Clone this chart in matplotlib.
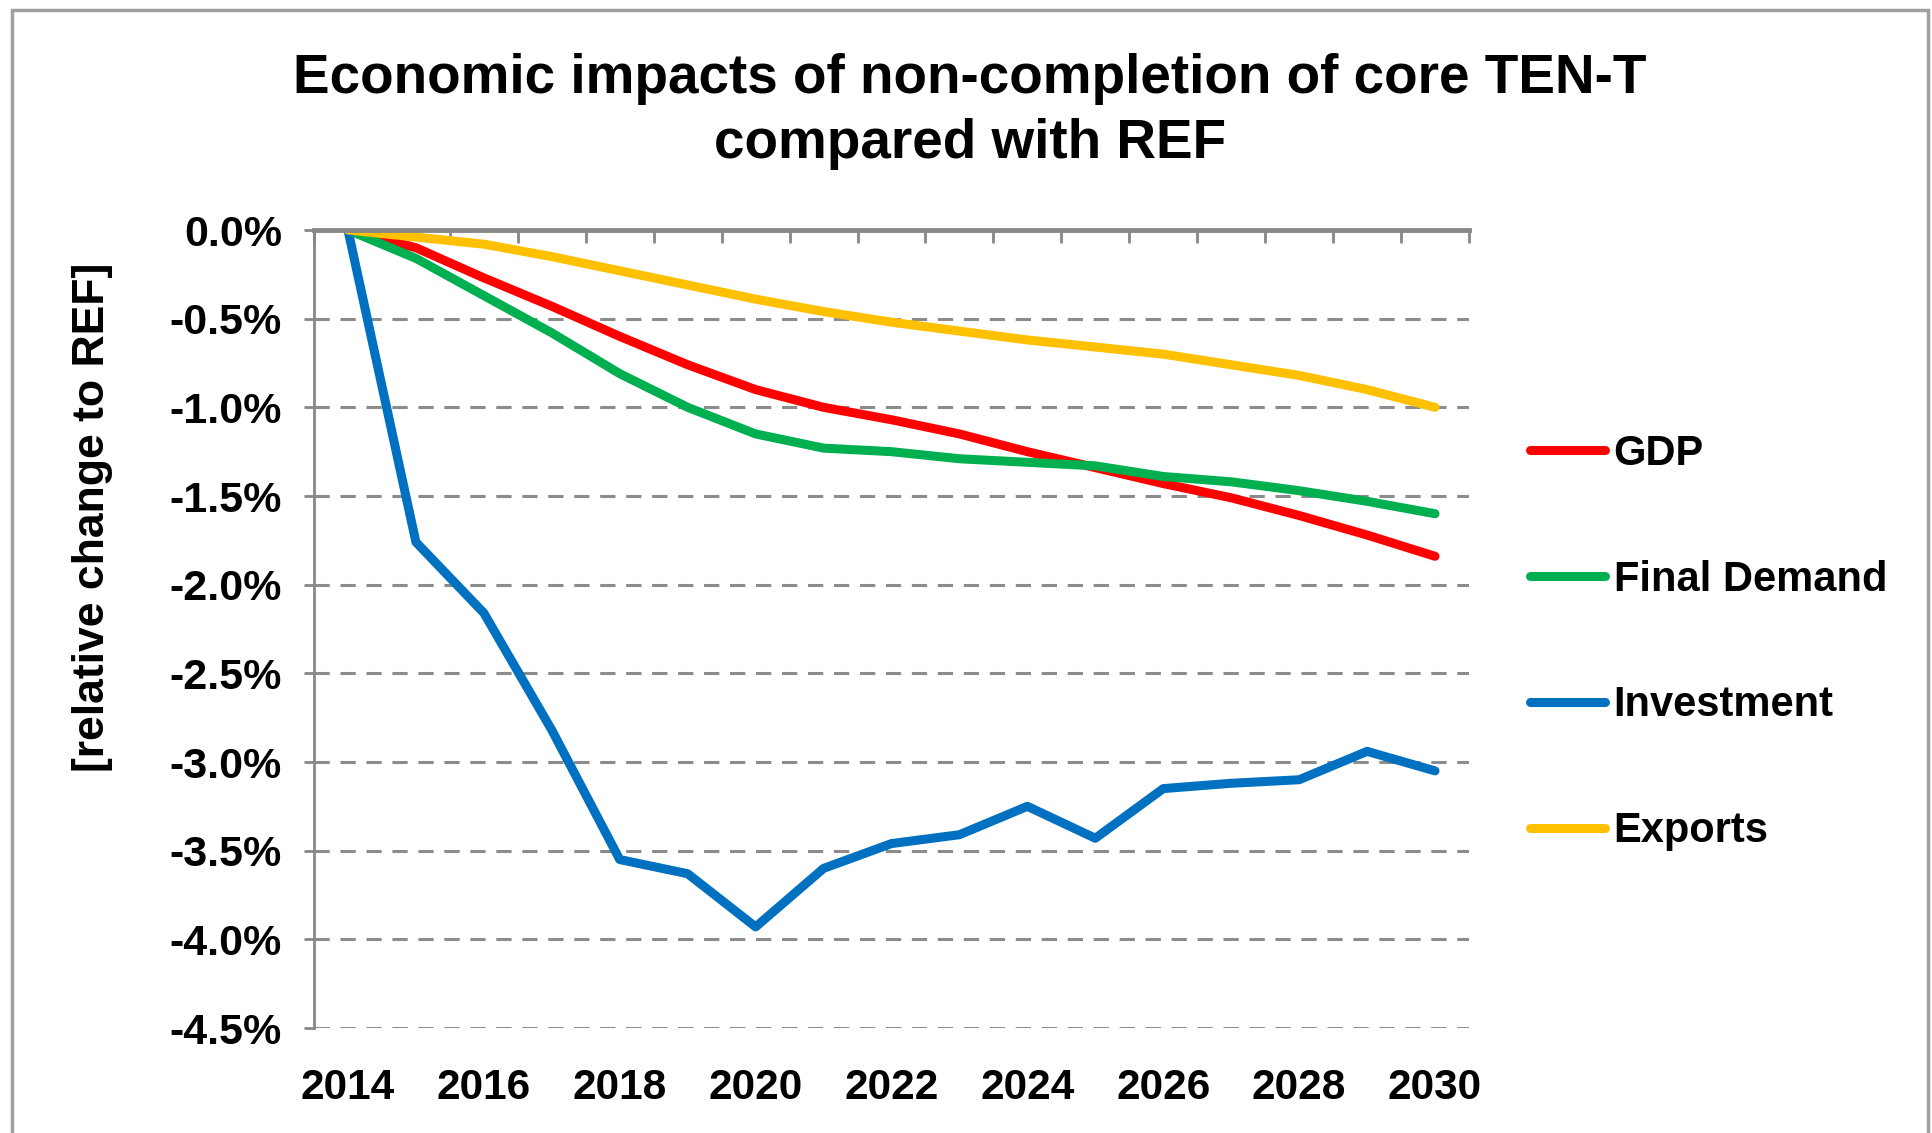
import matplotlib
matplotlib.use("Agg")
import matplotlib.pyplot as plt
from matplotlib.patches import Rectangle
from matplotlib.ticker import FixedLocator, FuncFormatter

plt.rcParams["font.family"] = ["Liberation Sans", "DejaVu Sans"]
plt.rcParams["font.weight"] = "bold"

# ---- data (relative change to REF, %) ------------------------------------
years = list(range(2014, 2031))
gdp = [0, -0.10, -0.27, -0.43, -0.60, -0.76, -0.90, -1.00, -1.07, -1.15,
       -1.25, -1.34, -1.43, -1.51, -1.61, -1.72, -1.84]
final_demand = [0, -0.16, -0.37, -0.58, -0.81, -1.00, -1.15, -1.23, -1.25,
                -1.29, -1.31, -1.33, -1.39, -1.42, -1.47, -1.53, -1.60]
investment = [0, -1.76, -2.16, -2.82, -3.55, -3.63, -3.93, -3.60, -3.46,
              -3.41, -3.25, -3.43, -3.15, -3.12, -3.10, -2.94, -3.05]
exports = [0, -0.04, -0.08, -0.15, -0.23, -0.31, -0.39, -0.46, -0.52, -0.57,
           -0.62, -0.66, -0.70, -0.76, -0.82, -0.90, -1.00]

series = [("GDP", gdp, "#FF0000"),
          ("Final Demand", final_demand, "#00B050"),
          ("Investment", investment, "#0070C0"),
          ("Exports", exports, "#FFC000")]
yticks = [0.0, -0.5, -1.0, -1.5, -2.0, -2.5, -3.0, -3.5, -4.0, -4.5]
xlabels = [2014, 2016, 2018, 2020, 2022, 2024, 2026, 2028, 2030]

W, H = 1932, 1133
fig = plt.figure(figsize=(W / 100, H / 100), dpi=100)
ax = fig.add_axes([314 / W, 1 - 1028 / H, (1469 - 314) / W, (1028 - 230) / H])

# outer chart frame
fig.add_artist(Rectangle((12 / W, -0.2), (1928 - 12) / W, 1.2 - 10 / H,
                         transform=fig.transFigure, fill=False,
                         edgecolor="#a0a0a0", lw=2.5))

for name, vals, col in series:
    ax.plot(years, vals, color=col, lw=6.5, label=name,
            solid_capstyle="round", solid_joinstyle="round")

ax.set_xlim(2013.5, 2030.5)
ax.set_ylim(-4.5, 0)

# dashed gridlines
for v in yticks[1:]:
    ax.axhline(v, color="#8c8c8c", lw=2.2, ls=(0, (5, 3.5)), zorder=0)

# spines: category axis sits at 0 (top), value axis on the left
for s in ["bottom", "right"]:
    ax.spines[s].set_visible(False)
ax.spines["top"].set_color("#888888")
ax.spines["top"].set_linewidth(3.5)
ax.spines["left"].set_color("#888888")
ax.spines["left"].set_linewidth(2)

ax.xaxis.set_major_locator(FixedLocator(xlabels))
ax.xaxis.set_minor_locator(FixedLocator([y + 0.5 for y in range(2013, 2031)]))
ax.tick_params(axis="x", which="major", bottom=False, top=False,
               labelbottom=True, labelsize=30.5, pad=25)
ax.tick_params(axis="x", which="minor", bottom=False, top=True,
               direction="in", length=9, width=2, color="#888888")

ax.set_yticks(yticks)
ax.yaxis.set_major_formatter(FuncFormatter(lambda v, p: f"{v:.1f}%"))
ax.tick_params(axis="y", direction="out", length=7, width=2,
               color="#888888", labelsize=31, pad=16)
for lab in ax.get_xticklabels() + ax.get_yticklabels():
    lab.set_fontweight("bold")

ax.text(-0.192, 0.64, "[relative change to REF]", transform=ax.transAxes,
        rotation=90, ha="center", va="center", fontsize=32,
        fontweight="bold")

fig.text(0.502, 0.9015,
         "Economic impacts of non-completion of core TEN-T\ncompared with REF",
         ha="center", va="center", fontsize=39.5, fontweight="bold",
         linespacing=1.33)

ax.legend(loc="center left", bbox_to_anchor=(1.035, 0.483), frameon=False,
          handlelength=1.8, handletextpad=0.2,
          labelspacing=2.06, borderpad=0, prop={"weight": "bold", "size": 30})

fig.savefig("out.png", dpi=100, facecolor="white")
